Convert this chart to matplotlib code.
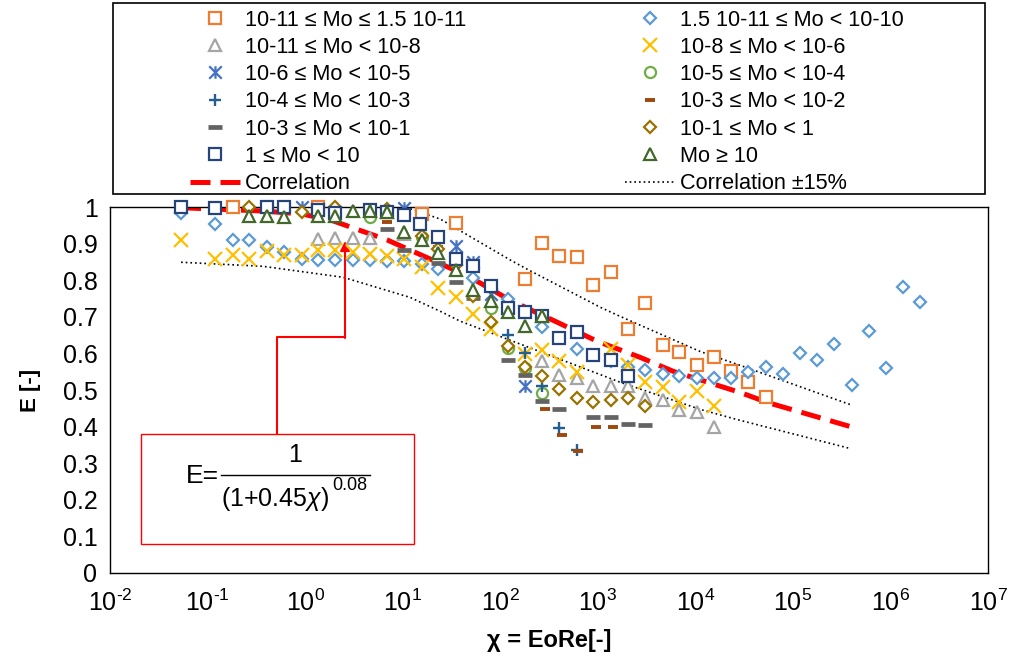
import math
import matplotlib
matplotlib.use("Agg")
import matplotlib.pyplot as plt
from matplotlib.path import Path
from matplotlib.lines import Line2D
from matplotlib.patches import Rectangle
from matplotlib.ticker import NullLocator, FixedLocator, FuncFormatter

plt.rcParams['font.family'] = ['Liberation Sans', 'DejaVu Sans']
plt.rcParams['mathtext.fontset'] = 'custom'
plt.rcParams['mathtext.rm'] = 'Liberation Sans'
plt.rcParams['mathtext.it'] = 'Liberation Sans:italic'
plt.rcParams['mathtext.bf'] = 'Liberation Sans:bold'

# ---- data: chi = EoRe, E ----
orange_chi = [0.183, 1.36, 15.8, 35.4, 181, 270, 403, 616, 899, 1375, 2055, 3070,
              4700, 6860, 10500, 15700, 23400, 35000, 53500]
orange_E = [1.0, 1.0, 0.981, 0.956, 0.803, 0.901, 0.866, 0.863, 0.786, 0.822, 0.666, 0.737,
            0.622, 0.605, 0.567, 0.589, 0.551, 0.523, 0.482]

lblue_chi = [0.0535, 0.119, 0.183, 0.267, 0.408, 0.609, 0.932, 1.36, 2.03, 3.11,
             4.64, 6.94, 10.4, 15.7, 23.1, 52.9, 121, 270, 616, 1375,
             2055, 3070, 4700, 6860, 10500, 15700, 23400, 35000, 53500, 79900,
             119000, 178000, 267000, 408000, 609000, 910000, 1360000, 2030000]
lblue_E = [0.984, 0.953, 0.910, 0.910, 0.890, 0.877, 0.858, 0.855, 0.855, 0.855,
           0.855, 0.852, 0.852, 0.844, 0.830, 0.805, 0.748, 0.671, 0.611, 0.578,
           0.564, 0.556, 0.545, 0.537, 0.534, 0.532, 0.534, 0.548, 0.564, 0.545,
           0.600, 0.581, 0.627, 0.515, 0.660, 0.559, 0.781, 0.740]

gray_chi = [1.36, 2.03, 3.11, 4.64, 10.4, 270, 403, 616, 899, 1375, 2055, 3070,
            4700, 6860, 10500, 15700]
gray_E = [0.912, 0.915, 0.915, 0.915, 0.926, 0.578, 0.542, 0.534, 0.512, 0.512, 0.512, 0.477,
          0.474, 0.444, 0.441, 0.400]

gold_chi = [0.0535, 0.119, 0.183, 0.267, 0.408, 0.609, 0.932, 1.36, 2.03, 3.11,
            4.64, 6.94, 10.4, 15.7, 23.1, 35.4, 52.9, 80.9, 181, 270,
            403, 616, 1375, 2055, 3070, 4700, 6860, 10500, 15700]
gold_E = [0.910, 0.858, 0.868, 0.858, 0.879, 0.868, 0.868, 0.882, 0.882, 0.877,
          0.871, 0.866, 0.858, 0.836, 0.778, 0.753, 0.707, 0.666, 0.597, 0.608,
          0.578, 0.548, 0.611, 0.567, 0.523, 0.507, 0.466, 0.496, 0.455]

star_chi = [0.932, 10.4, 35.4, 52.9, 80.9, 181]
star_E = [1.0, 0.997, 0.893, 0.849, 0.762, 0.512]

circle_chi = [4.64, 15.7, 80.9, 121, 181, 270]
circle_E = [0.973, 0.918, 0.723, 0.616, 0.559, 0.493]

plus_chi = [121, 181, 270, 403, 616]
plus_E = [0.649, 0.600, 0.512, 0.397, 0.337]

brown_chi = [6.94, 23.1, 290, 432, 631, 966, 1442]
brown_E = [0.959, 0.890, 0.449, 0.378, 0.332, 0.400, 0.400]

dgray_chi = [6.94, 10.4, 23.1, 35.4, 52.9, 121, 181, 270, 403, 899, 1375, 2055, 3070]
dgray_E = [0.940, 0.882, 0.847, 0.795, 0.751, 0.581, 0.542, 0.471, 0.447, 0.427, 0.425, 0.408, 0.405]

dgold_chi = [0.267, 0.932, 2.03, 6.94, 15.7, 23.1, 35.4, 52.9, 80.9, 121,
             181, 270, 403, 616, 899, 1375, 2055, 3070]
dgold_E = [1.0, 0.986, 1.0, 0.995, 0.921, 0.885, 0.841, 0.756, 0.685, 0.619,
           0.562, 0.537, 0.504, 0.479, 0.468, 0.474, 0.477, 0.455]

navy_chi = [0.0535, 0.119, 0.408, 0.609, 1.36, 2.03, 4.64, 6.94, 10.4, 15.1, 23.1,
            35.4, 52.9, 80.9, 121, 181, 270, 403, 616, 899, 1375, 2055]
navy_E = [1.0, 0.997, 1.0, 1.0, 0.992, 0.984, 0.992, 0.986, 0.978, 0.953, 0.918,
          0.858, 0.838, 0.784, 0.723, 0.712, 0.701, 0.641, 0.658, 0.595, 0.581, 0.537]

dgreen_chi = [0.267, 0.408, 0.609, 1.36, 2.03, 3.11, 4.64, 6.94, 10.4, 15.7, 23.1,
              35.4, 52.9, 80.9, 121, 181, 270]
dgreen_E = [0.975, 0.975, 0.973, 0.975, 0.975, 0.989, 0.989, 0.986, 0.932, 0.910, 0.874,
            0.827, 0.773, 0.742, 0.712, 0.674, 0.701]

# correlation curve and +-15% band
corr_chi = [0.0535, 0.37, 0.93, 1.94, 6.93, 19.1, 49.2, 127, 385, 989, 2730, 5940,
            29000, 54700, 389000]
corr_E = [0.998, 0.989, 0.981, 0.962, 0.910, 0.858, 0.808, 0.745, 0.685, 0.633, 0.589, 0.551,
          0.493, 0.466, 0.400]
upper_chi = [12, 24.3, 127, 189, 1062, 1700, 11250, 27000, 389000]
upper_E = [0.995, 0.967, 0.855, 0.830, 0.726, 0.701, 0.605, 0.570, 0.460]
lower_chi = [0.0535, 0.37, 2.45, 11.9, 24.3, 38.9, 1062, 1700, 11250, 27000, 389000]
lower_E = [0.849, 0.838, 0.808, 0.753, 0.715, 0.688, 0.542, 0.521, 0.447, 0.419, 0.340]

y_ticks = [0, 0.1, 0.2, 0.3, 0.4, 0.5, 0.6, 0.7, 0.8, 0.9, 1]
x_ticks = [1e-2, 1e-1, 1e0, 1e1, 1e2, 1e3, 1e4, 1e5, 1e6, 1e7]

# asterisk marker like the Excel "star"
star_marker = Path([(-0.5, -0.5), (0.5, 0.5), (-0.5, 0.5), (0.5, -0.5), (0, -0.5), (0, 0.5)],
                   [Path.MOVETO, Path.LINETO, Path.MOVETO, Path.LINETO, Path.MOVETO, Path.LINETO])

# (chi, E, label, marker style)
series = [
    (orange_chi, orange_E, '10-11 ≤ Mo ≤ 1.5 10-11',
     dict(marker='s', ms=8.5, mec='#ED7D31', mfc='white', mew=1.6)),
    (lblue_chi, lblue_E, '1.5 10-11 ≤ Mo < 10-10',
     dict(marker='D', ms=6.5, mec='#5B9BD5', mfc='white', mew=1.6)),
    (gray_chi, gray_E, '10-11 ≤ Mo < 10-8',
     dict(marker='^', ms=8.5, mec='#A5A5A5', mfc='white', mew=1.6)),
    (gold_chi, gold_E, '10-8 ≤ Mo < 10-6',
     dict(marker='x', ms=9.5, mec='#FFC000', mew=1.6)),
    (star_chi, star_E, '10-6 ≤ Mo < 10-5',
     dict(marker=star_marker, ms=9, mec='#4472C4', mfc='none', mew=1.6)),
    (circle_chi, circle_E, '10-5 ≤ Mo < 10-4',
     dict(marker='o', ms=8, mec='#70AD47', mfc='white', mew=1.6)),
    (plus_chi, plus_E, '10-4 ≤ Mo < 10-3',
     dict(marker='+', ms=9, mec='#255E91', mew=1.7)),
    (brown_chi, brown_E, '10-3 ≤ Mo < 10-2',
     dict(marker='_', ms=6.5, mec='#9E480E', mew=2.8)),
    (dgray_chi, dgray_E, '10-3 ≤ Mo < 10-1',
     dict(marker='_', ms=10, mec='#636363', mew=3.4)),
    (dgold_chi, dgold_E, '10-1 ≤ Mo < 1',
     dict(marker='D', ms=6.5, mec='#997300', mfc='white', mew=1.6)),
    (navy_chi, navy_E, '1 ≤ Mo < 10',
     dict(marker='s', ms=8.5, mec='#264478', mfc='white', mew=1.6)),
    (dgreen_chi, dgreen_E, 'Mo ≥ 10',
     dict(marker='^', ms=8.5, mec='#43682B', mfc='white', mew=1.6)),
]

W, H = 1010, 661
fig = plt.figure(figsize=(W / 100, H / 100), dpi=100)
ax = fig.add_axes([110 / W, 1 - 573 / H, 878 / W, 366 / H])


def fp(x, y):
    # figure pixel (from top-left) -> figure fraction
    return x / W, 1 - y / H


def pow10_label(v, _):
    exp = str(round(math.log10(v))).replace('-', '\u2010')
    return r'$\mathregular{10^{%s}}$' % exp


corr_style = dict(color='#FF0000', lw=3.6, ls=(0, (4, 2)))
band_style = dict(color='black', lw=1.2, ls=(0, (1, 1.8)))
ax.plot(corr_chi, corr_E, zorder=2, **corr_style)
ax.plot(upper_chi, upper_E, zorder=2, **band_style)
ax.plot(lower_chi, lower_E, zorder=2, **band_style)

handles = {}
for i, (xs, ys, label, st) in enumerate(series):
    ln, = ax.plot(xs, ys, ls='none', clip_on=False, zorder=3 + i * 0.01, **st)
    handles[label] = ln

ax.set_xscale('log')
ax.set_xlim(1e-2, 1e7)
ax.set_ylim(0, 1)
ax.xaxis.set_major_locator(FixedLocator(x_ticks))
ax.xaxis.set_minor_locator(NullLocator())
ax.xaxis.set_major_formatter(FuncFormatter(pow10_label))
ax.yaxis.set_major_locator(FixedLocator(y_ticks))
ax.yaxis.set_major_formatter(FuncFormatter(lambda v, _: f'{v:g}'))
ax.tick_params(length=0, labelsize=18)
ax.tick_params(axis='x', pad=12)
ax.tick_params(axis='y', pad=9)
for sp in ax.spines.values():
    sp.set_linewidth(1.0)

ax.set_xlabel('χ = EoRe[-]', fontsize=17, fontweight='bold')
ax.xaxis.set_label_coords(0.5, (573 - 629) / 366)
ax.xaxis.label.set_va('top')
ax.set_ylabel('E [-]', fontsize=16, fontweight='bold')
ax.yaxis.set_label_coords((41 - 110) / 878, 0.5)

# legend, two columns placed separately inside a framed box
corr_handle = Line2D([], [], **corr_style)
band_handle = Line2D([], [], **band_style)
col1 = [s[2] for s in series[0::2]]
col2 = [s[2] for s in series[1::2]]
leg_kw = dict(loc='upper left', frameon=False, fontsize=15.6, handlelength=2.3,
              handletextpad=0.25, labelspacing=0.29, borderpad=0, borderaxespad=0,
              numpoints=1)
fig.legend([handles[l] for l in col1] + [corr_handle], col1 + ['Correlation'],
           bbox_to_anchor=fp(190, 9.5), **leg_kw)
fig.legend([handles[l] for l in col2] + [band_handle], col2 + ['Correlation ±15%'],
           bbox_to_anchor=fp(625, 9.5), **leg_kw)
x0, y0 = fp(113, 194)
x1, y1 = fp(985, 3)
fig.add_artist(Rectangle((x0, y0), x1 - x0, y1 - y0, transform=fig.transFigure,
                         fill=False, ec='black', lw=1.2))

# equation box with arrow
bx0, by0 = fp(141, 544)
bx1, by1 = fp(414, 434)
fig.add_artist(Rectangle((bx0, by0), bx1 - bx0, by1 - by0, transform=fig.transFigure,
                         fill=False, ec='#FF0000', lw=1.0))
px, py = zip(fp(277, 434), fp(277, 337), fp(345, 337))
fig.add_artist(Line2D(px, py, transform=fig.transFigure, color='#FF0000', lw=1.5))
ax.annotate('', xy=fp(345, 241), xytext=fp(345, 338), xycoords='figure fraction',
            textcoords='figure fraction',
            arrowprops=dict(arrowstyle='-|>', color='#FF0000', lw=1.5,
                            mutation_scale=14, shrinkA=0, shrinkB=0))

fig.text(*fp(219, 476), 'E=', ha='right', va='center', fontsize=19)
fig.text(*fp(295, 455), '1', ha='center', va='center', fontsize=18)
lx, ly = zip(fp(221, 475), fp(370, 475))
fig.add_artist(Line2D(lx, ly, transform=fig.transFigure, color='black', lw=1.0))
fig.text(*fp(221, 499), r'$(1{+}\mathit{0.45}\chi)$', ha='left', va='center', fontsize=18)
fig.text(*fp(332, 486), '0.08', ha='left', va='center', fontsize=13)

fig.savefig('out.png', dpi=100)
